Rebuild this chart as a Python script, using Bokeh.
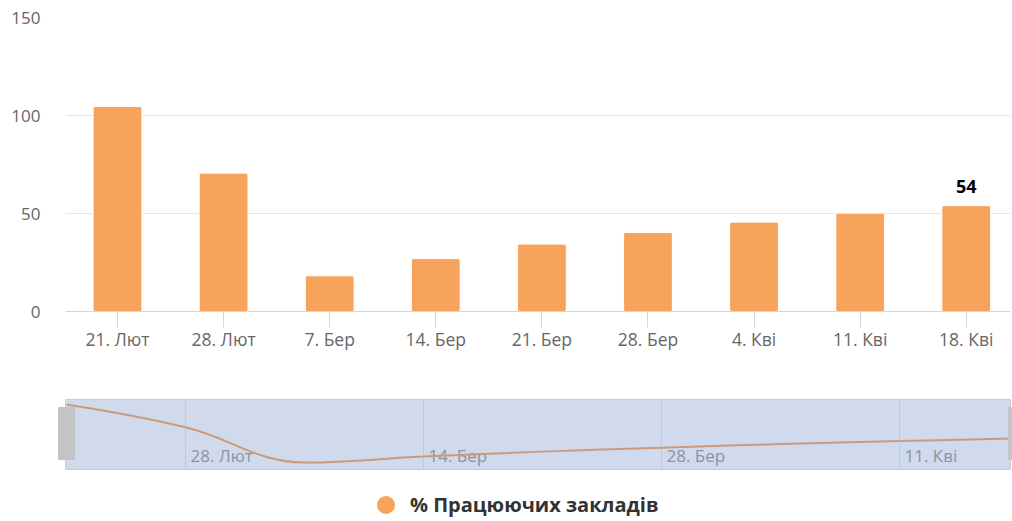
from bokeh.plotting import figure
from bokeh.models import (Range1d, FixedTicker, Legend, LegendItem, ColumnDataSource)
from bokeh.layouts import column
from bokeh.core.properties import value
from bokeh.embed import file_html
from bokeh.resources import INLINE

# ---------------- data ----------------
categories = ["21. Лют", "28. Лют", "7. Бер", "14. Бер", "21. Бер",
              "28. Бер", "4. Кві", "11. Кві", "18. Кві"]
values = [104.6, 70.6, 18.2, 27.0, 34.4, 40.3, 45.6, 50.2, 54]
series_name = "% Працюючих закладів"
y_ticks = [0, 50, 100, 150]
label_index = [8]  # points carrying a data label

# ---------------- style ----------------
FONT = "Open Sans"
BAR = "#F7A35C"
NAV_BG = "#D1DAED"
NAV_LINE = "#CC9A7B"
NAV_GRID = "#C0C9DB"
NAV_TXT = "#8A93A5"
HANDLE = "#C4C4C4"

W = 1012
LEFT = 65
RIGHT = 2
idx = list(range(len(categories)))

# ---------------- main chart ----------------
p = figure(width=W, height=385, output_backend="svg", toolbar_location=None,
           x_range=Range1d(-0.49, 8.417), y_range=Range1d(0, 150),
           min_border_left=LEFT, min_border_right=RIGHT, min_border_top=17,
           min_border_bottom=74, frame_align=False)
p.outline_line_color = None
p.background_fill_color = "white"
p.border_fill_color = "white"

p.vbar(x=idx, top=values, width=0.46, fill_color=BAR, line_color="white",
       line_width=1, border_radius=2)

lab_src = ColumnDataSource(dict(x=[idx[i] for i in label_index],
                                y=[values[i] for i in label_index],
                                t=["%d" % round(values[i]) for i in label_index]))
p.text(x="x", y="y", text="t", source=lab_src, y_offset=-19,
       text_align="center", text_baseline="middle",
       text_font=value(FONT), text_font_style="bold", text_font_size="18px",
       text_color="#000000")

p.xgrid.visible = False
p.ygrid.grid_line_color = "#E6E6E6"
p.ygrid.ticker = FixedTicker(ticks=y_ticks)

xa = p.xaxis[0]
xa.ticker = FixedTicker(ticks=idx)
xa.major_label_overrides = {i: c for i, c in zip(idx, categories)}
xa.axis_line_color = "#CCD6EB"
xa.major_tick_line_color = "#CCD6EB"
xa.major_tick_out = 16
xa.major_tick_in = 0
xa.minor_tick_line_color = None
xa.minor_tick_out = 0
xa.major_label_standoff = -1
xa.major_label_text_font = FONT
xa.major_label_text_font_size = "17.5px"
xa.major_label_text_color = "#666666"

ya = p.yaxis[0]
ya.ticker = FixedTicker(ticks=y_ticks)
ya.axis_line_color = None
ya.major_tick_line_color = None
ya.minor_tick_line_color = None
ya.major_tick_out = 0
ya.minor_tick_out = 0
ya.major_label_standoff = 25
ya.major_label_text_font = FONT
ya.major_label_text_font_size = "17px"
ya.major_label_text_color = "#666666"

# ---------------- navigator ----------------
NH = 136
nav_top_px, nav_bot_px = 14, 84          # navigator box inside the figure
vmax_px, vmin_px = 19, 77                # where max / min values sit
kpx = (vmin_px - vmax_px) / (max(values) - min(values))
vtop = max(values)


def yv(px):
    return vtop - (px - vmax_px) / kpx


y_hi = yv(0)
y_lo = yv(NH)
box_top = yv(nav_top_px)
box_bot = yv(nav_bot_px)

pxw = 119.0
x0_px = 66
x_lo = -x0_px / pxw
x_hi = (W - x0_px) / pxw

nav = figure(width=W, height=NH, output_backend="svg", toolbar_location=None,
             x_range=Range1d(x_lo, x_hi), y_range=Range1d(y_lo, y_hi),
             min_border_left=0, min_border_right=0, min_border_top=0,
             min_border_bottom=0, frame_align=False)
nav.axis.visible = False
nav.grid.visible = False
nav.outline_line_color = None
nav.border_fill_color = "white"
nav.background_fill_color = "white"

nav.quad(left=[idx[0] - 1 / pxw], right=[x_hi - 2 / pxw], bottom=[box_bot],
         top=[box_top], fill_color=NAV_BG, line_color="#CCCCCC", line_width=1)

nav_ticks = idx[1::2]
nav.segment(x0=nav_ticks, x1=nav_ticks, y0=[box_bot] * len(nav_ticks),
            y1=[box_top] * len(nav_ticks), line_color=NAV_GRID, line_width=1)
nav.text(x=nav_ticks, y=[box_bot] * len(nav_ticks),
         text=[categories[i] for i in nav_ticks], x_offset=5, y_offset=-14.5,
         text_align="left", text_baseline="middle",
         text_font=value(FONT), text_font_size="17px", text_color=NAV_TXT)


def hc_spline(xs, ys, smoothing=1.5):
    n = len(xs)
    denom = smoothing + 1
    left = [None] * n
    right = [None] * n
    for i in range(n):
        px, py = xs[i], ys[i]
        if i == 0 or i == n - 1:
            left[i] = right[i] = (px, py)
            continue
        lx, ly = xs[i - 1], ys[i - 1]
        nx, ny = xs[i + 1], ys[i + 1]
        lcx = (smoothing * px + lx) / denom
        lcy = (smoothing * py + ly) / denom
        rcx = (smoothing * px + nx) / denom
        rcy = (smoothing * py + ny) / denom
        if rcx != lcx:
            corr = ((rcy - lcy) * (rcx - px)) / (rcx - lcx) + py - rcy
            lcy += corr
            rcy += corr
        if lcy > ly and lcy > py:
            lcy = max(ly, py); rcy = 2 * py - lcy
        elif lcy < ly and lcy < py:
            lcy = min(ly, py); rcy = 2 * py - lcy
        if rcy > ny and rcy > py:
            rcy = max(ny, py); lcy = 2 * py - rcy
        elif rcy < ny and rcy < py:
            rcy = min(ny, py); lcy = 2 * py - rcy
        left[i] = (lcx, lcy)
        right[i] = (rcx, rcy)
    segs = dict(x0=[], y0=[], x1=[], y1=[], cx0=[], cy0=[], cx1=[], cy1=[])
    for i in range(1, n):
        segs["x0"].append(xs[i - 1]); segs["y0"].append(ys[i - 1])
        segs["x1"].append(xs[i]); segs["y1"].append(ys[i])
        segs["cx0"].append(right[i - 1][0]); segs["cy0"].append(right[i - 1][1])
        segs["cx1"].append(left[i][0]); segs["cy1"].append(left[i][1])
    return segs


sp = hc_spline(idx, values)
nav.bezier(source=ColumnDataSource(sp), x0="x0", y0="y0", x1="x1", y1="y1",
           cx0="cx0", cy0="cy0", cx1="cx1", cy1="cy1",
           line_color=NAV_LINE, line_width=2)

# handles
hw = 8 / pxw
h_top = yv(22)
h_bot = yv(74)
nav.quad(left=[idx[0] - hw], right=[idx[0] + hw], top=[h_top], bottom=[h_bot],
         fill_color=HANDLE, line_color=HANDLE)
nav.quad(left=[x_hi - 4 / pxw], right=[x_hi + hw], top=[h_top], bottom=[h_bot],
         fill_color=HANDLE, line_color=HANDLE)

# legend: a marker renderer drawn at zero size, so only the legend shows it
leg_src = ColumnDataSource(dict(x=idx[:1], y=values[:1]))
dummy = nav.scatter(x="x", y="y", source=leg_src, marker="circle", size=0,
                    fill_color=BAR, line_color=None)
leg = Legend(items=[LegendItem(label=series_name, renderers=[dummy])],
             location=(363, -6), orientation="horizontal",
             padding=0, margin=0, border_line_color=None,
             background_fill_alpha=0, glyph_width=45, glyph_height=45,
             label_standoff=2, label_text_font=FONT, label_text_font_size="20px",
             label_text_font_style="bold", label_text_color="#333333",
             label_text_baseline="middle", label_height=45)
nav.add_layout(leg)

layout = column(p, nav, spacing=0)
open("out.html", "w").write(file_html(layout, INLINE))
